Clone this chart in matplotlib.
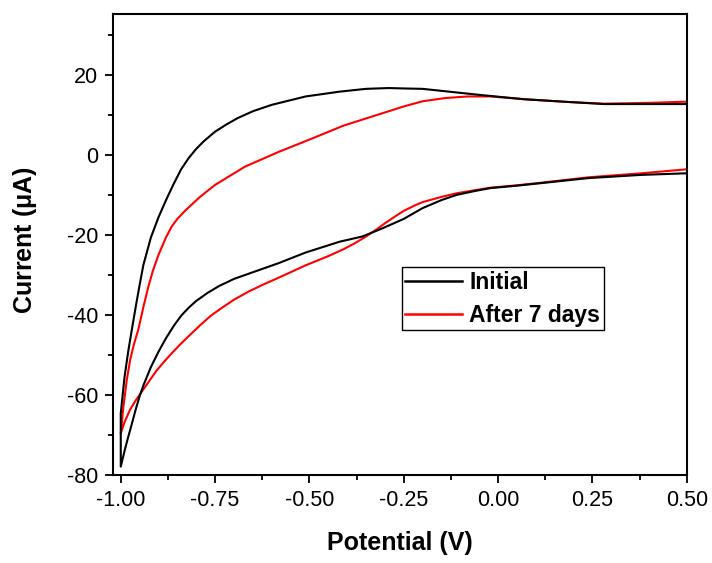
import matplotlib
matplotlib.use("Agg")
import numpy as np
import matplotlib.pyplot as plt
from matplotlib.ticker import MultipleLocator, FormatStrFormatter

# Initial scan: upper branch (0.5 -> -1.0) then lower branch (-1.0 -> 0.5)
init_up_v = [0.50, 0.40, 0.28, 0.19, 0.07, -0.05, -0.13, -0.20, -0.25, -0.29, -0.35,
             -0.42, -0.51, -0.60, -0.65, -0.69, -0.72, -0.75, -0.78, -0.80, -0.82,
             -0.84, -0.86, -0.88, -0.90, -0.92, -0.94, -0.95, -0.96, -0.97, -0.98,
             -0.99, -1.00]
init_up_i = [12.7, 12.7, 12.7, 13.2, 13.9, 15.0, 15.8, 16.5, 16.6, 16.7, 16.5,
             15.8, 14.6, 12.5, 10.9, 9.2, 7.6, 5.8, 3.4, 1.5, -0.8,
             -3.6, -7.3, -11.3, -15.6, -20.6, -27.5, -32.5, -37.8, -43.3, -49.0,
             -55.5, -64.6]
init_lo_v = [-1.00, -0.99, -0.98, -0.97, -0.96, -0.95, -0.94, -0.92, -0.90, -0.88,
             -0.86, -0.84, -0.82, -0.80, -0.77, -0.74, -0.70, -0.64, -0.58, -0.51,
             -0.42, -0.36, -0.31, -0.25, -0.20, -0.15, -0.11, -0.06, -0.02, 0.05,
             0.11, 0.24, 0.38, 0.50]
init_lo_i = [-77.9, -74.0, -70.4, -67.0, -63.5, -60.3, -57.6, -53.0, -49.2, -45.8,
             -42.8, -40.2, -38.2, -36.5, -34.5, -32.8, -31.0, -29.0, -27.0, -24.4,
             -21.7, -20.4, -18.5, -16.0, -13.3, -11.3, -10.0, -9.0, -8.3, -7.7,
             -7.1, -5.8, -5.0, -4.6]

# After 7 days
aged_up_v = [0.50, 0.40, 0.28, 0.19, 0.07, -0.02, -0.08, -0.14, -0.20, -0.25, -0.29,
             -0.33, -0.41, -0.49, -0.58, -0.67, -0.75, -0.79, -0.83, -0.85, -0.865,
             -0.88, -0.90, -0.915, -0.927, -0.94, -0.953, -0.965, -0.975, -0.984,
             -0.993, -1.00]
aged_up_i = [13.3, 13.0, 12.8, 13.2, 13.9, 14.6, 14.6, 14.2, 13.4, 12.1, 10.9,
             9.7, 7.3, 4.2, 0.8, -2.9, -7.5, -10.5, -14.0, -16.0, -17.9,
             -20.6, -25.0, -29.0, -33.0, -38.0, -43.5, -47.3, -51.2, -56.2,
             -63.0, -69.6]
aged_lo_v = [-1.00, -0.99, -0.975, -0.96, -0.94, -0.92, -0.905, -0.887, -0.869, -0.845,
             -0.82, -0.79, -0.76, -0.73, -0.70, -0.66, -0.62, -0.57, -0.51, -0.45,
             -0.41, -0.38, -0.35, -0.32, -0.30, -0.27, -0.25, -0.22, -0.20, -0.15,
             -0.11, -0.06, -0.02, 0.05, 0.11, 0.24, 0.38, 0.50]
aged_lo_i = [-69.6, -66.8, -63.6, -61.3, -58.6, -55.9, -53.9, -51.9, -50.0, -47.6,
             -45.3, -42.6, -40.1, -38.1, -36.2, -34.1, -32.3, -30.2, -27.6, -25.3,
             -23.6, -22.1, -20.4, -18.5, -17.1, -15.2, -14.0, -12.6, -11.8, -10.5,
             -9.6, -8.8, -8.2, -7.6, -7.0, -5.6, -4.6, -3.6]

labels = ["Initial", "After 7 days"]

plt.rcParams['font.family'] = ['Liberation Sans', 'DejaVu Sans']
plt.rcParams['axes.unicode_minus'] = False

fig = plt.figure(figsize=(7.12, 5.63), dpi=100)
ax = fig.add_axes([0.159, 0.1563, 0.8055, 0.8188])

l2, = ax.plot(aged_up_v + aged_lo_v, aged_up_i + aged_lo_i, color="#ff0000", lw=1.5, zorder=2)
l1, = ax.plot(init_up_v + init_lo_v, init_up_i + init_lo_i, color="black", lw=1.5, zorder=3)

ax.set_xlim(-1.02, 0.5)
ax.set_ylim(-80, 35.2)
ax.xaxis.set_major_locator(MultipleLocator(0.25))
ax.xaxis.set_minor_locator(MultipleLocator(0.125))
ax.xaxis.set_major_formatter(FormatStrFormatter('%.2f'))
ax.yaxis.set_major_locator(MultipleLocator(20))
ax.yaxis.set_minor_locator(MultipleLocator(10))

for s in ax.spines.values():
    s.set_linewidth(1.5)
ax.tick_params(which='major', direction='out', length=6, width=1.3, labelsize=15.5, pad=5)
ax.tick_params(which='minor', direction='out', length=3.5, width=1.3)

ax.set_xlabel("Potential (V)", fontsize=18, fontweight='bold')
ax.set_ylabel("Current ($\\mathregular{\\mu}$A)", fontsize=18, fontweight='bold')
ax.xaxis.set_label_coords(0.5, -0.122)
ax.yaxis.set_label_coords(-0.13, 0.51)

leg = ax.legend([l1, l2], labels, loc='upper left', bbox_to_anchor=(0.503, 0.451),
                prop={'weight': 'bold', 'size': 16.5}, frameon=True, fancybox=False,
                edgecolor='black', framealpha=1, borderpad=0.15, handlelength=2.5,
                handletextpad=0.3, labelspacing=0.45, borderaxespad=0)
leg.get_frame().set_linewidth(1.0)
for ln in leg.get_lines():
    ln.set_linewidth(1.8)

fig.savefig("out.png", dpi=100)
